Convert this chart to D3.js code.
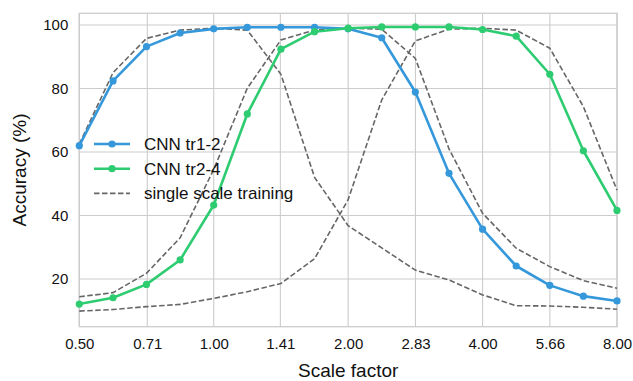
<!DOCTYPE html>
<html><head><meta charset="utf-8">
<script src="https://cdn.jsdelivr.net/npm/d3@7/dist/d3.min.js"></script>
<style>body{margin:0;background:#fff;}svg{display:block;font-family:"Liberation Sans",Arial,sans-serif;}</style>
</head><body><svg id="c" width="633" height="381"></svg>
<script>
const scales = [0.5,0.595,0.707,0.841,1.0,1.189,1.414,1.682,2.0,2.378,2.828,3.364,4.0,4.757,5.657,6.727,8.0];
const xTicks = [0.5,0.71,1.0,1.41,2.0,2.83,4.0,5.66,8.0];
const xTickLabels = ["0.50","0.71","1.00","1.41","2.00","2.83","4.00","5.66","8.00"];
const yTicks = [20,40,60,80,100];
const cnnTr12 = [62.0,82.4,93.2,97.5,98.8,99.3,99.3,99.3,98.8,96.0,78.9,53.3,35.7,24.1,18.0,14.6,13.1];
const cnnTr24 = [12.1,14.1,18.3,26.0,43.3,72.0,92.4,97.9,99.0,99.4,99.4,99.4,98.6,96.5,84.5,60.4,41.6];
const singleA = [62.5,85.0,95.8,98.4,99.0,98.4,84.5,52.0,36.8,29.8,22.8,19.7,15.0,11.6,11.5,11.1,10.5];
const singleB = [14.4,15.7,21.8,33.0,54.5,80.1,95.3,98.4,99.0,98.7,89.5,61.0,40.7,29.7,23.9,19.5,17.1];
const singleC = [9.9,10.4,11.3,12.0,13.9,16.0,18.6,26.4,45.0,76.4,95.0,98.7,99.0,98.4,92.7,74.3,48.0];
const seriesNames = ["CNN tr1-2","CNN tr2-4","single scale training"];

const svg = d3.select("#c");
const L=79.3,R=617,T=13.3,B=326.7;
const x = d3.scaleLog().base(2).domain([0.5,8]).range([L,R]);
const y = d3.scaleLinear().domain([4.98,103.7]).range([B,T]);
const grid="#cccccc";

// grid
svg.append("g").selectAll("line").data(xTicks).join("line")
  .attr("x1",d=>x(d)).attr("x2",d=>x(d)).attr("y1",T).attr("y2",B)
  .attr("stroke",grid).attr("stroke-width",1.1);
svg.append("g").selectAll("line").data(yTicks).join("line")
  .attr("x1",L).attr("x2",R).attr("y1",d=>y(d)).attr("y2",d=>y(d))
  .attr("stroke",grid).attr("stroke-width",1.1);
svg.append("rect").attr("x",L).attr("y",T).attr("width",R-L).attr("height",B-T)
  .attr("fill","none").attr("stroke",grid).attr("stroke-width",1.3);

// axes via d3
const xa = svg.append("g").attr("transform",`translate(0,${B})`)
  .call(d3.axisBottom(x).tickValues(xTicks).tickFormat((d,i)=>xTickLabels[i]).tickSize(0).tickPadding(12));
const ya = svg.append("g").attr("transform",`translate(${L},0)`)
  .call(d3.axisLeft(y).tickValues(yTicks).tickFormat(d3.format("d")).tickSize(0).tickPadding(11));
[xa,ya].forEach(a=>{a.select(".domain").remove();a.selectAll("text").attr("font-size",15).attr("fill","#111").attr("font-family","Liberation Sans, Arial, sans-serif");});

svg.append("text").attr("x",(L+R)/2).attr("y",377).attr("text-anchor","middle")
  .attr("font-size",19).attr("fill","#111").text("Scale factor");
svg.append("text").attr("transform",`translate(26,${(T+B)/2}) rotate(-90)`).attr("text-anchor","middle")
  .attr("font-size",19).attr("fill","#111").text("Accuracy (%)");

const line = d3.line().x((d,i)=>x(scales[i])).y(d=>y(d));
const g = svg.append("g");
[singleA,singleB,singleC].forEach(s=>{
  g.append("path").attr("d",line(s)).attr("fill","none").attr("stroke","#666666")
   .attr("stroke-width",1.6).attr("stroke-dasharray","5.5,2.5");
});
[[cnnTr12,"#3498db"],[cnnTr24,"#2ecc71"]].forEach(([s,c])=>{
  g.append("path").attr("d",line(s)).attr("fill","none").attr("stroke",c).attr("stroke-width",2.6).attr("stroke-linejoin","round");
  g.selectAll(null).data(s).join("circle").attr("cx",(d,i)=>x(scales[i])).attr("cy",d=>y(d)).attr("r",3.6).attr("fill",c);
});

// legend
const lg = svg.append("g");
const items=[{c:"#3498db",dash:null,m:true},{c:"#2ecc71",dash:null,m:true},{c:"#666666",dash:"5.5,2.5",m:false}];
items.forEach((it,i)=>{
  const yy=144+i*24.7;
  lg.append("line").attr("x1",94).attr("x2",130).attr("y1",yy).attr("y2",yy)
    .attr("stroke",it.c).attr("stroke-width",it.m?2.6:1.6).attr("stroke-dasharray",it.dash);
  if(it.m) lg.append("circle").attr("cx",112).attr("cy",yy).attr("r",3.6).attr("fill",it.c);
  lg.append("text").attr("x",144).attr("y",yy+6).attr("font-size",17).attr("fill","#111").text(seriesNames[i]);
});
</script></body></html>
